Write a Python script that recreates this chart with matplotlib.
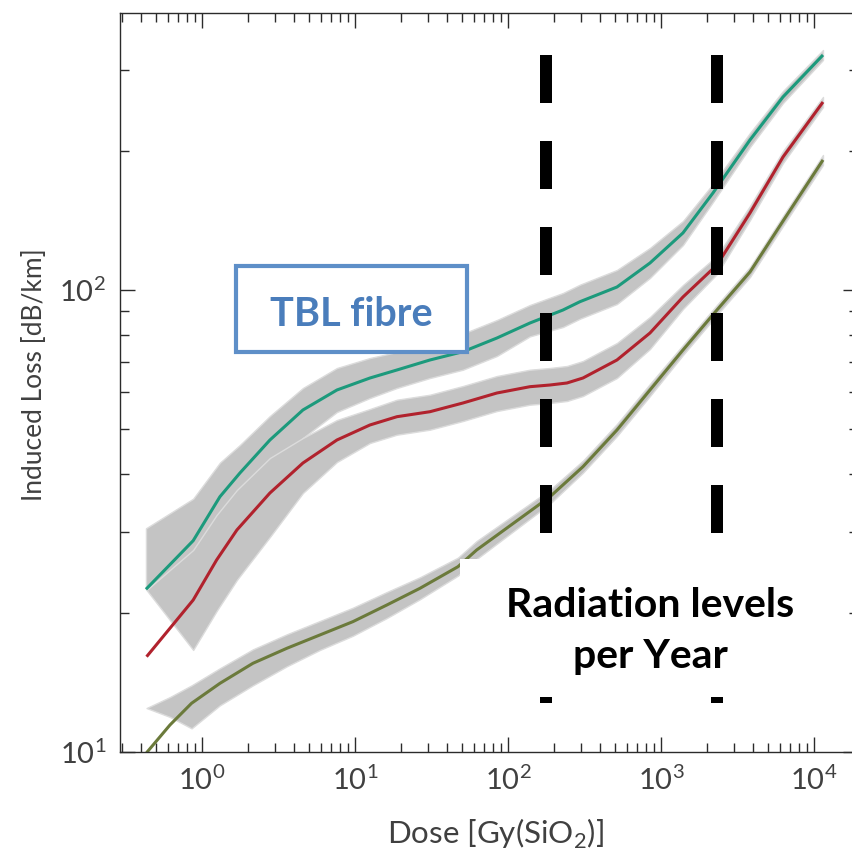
import math
import matplotlib
matplotlib.use("Agg")
import matplotlib.pyplot as plt
from matplotlib.ticker import LogLocator, FuncFormatter, NullFormatter
from matplotlib.patches import Rectangle

plt.rcParams['font.family'] = ['Lato', 'DejaVu Sans']
plt.rcParams['font.weight'] = 'normal'
plt.rcParams['lines.scale_dashes'] = False

# ---- data ----
# dose [Gy(SiO2)]
teal_x = [0.433, 0.881, 1.317, 1.779, 2.793, 4.588, 7.651, 12.57, 18.86, 30.99, 50.90,
          84.88, 139.4, 229.1, 295.8, 516.0, 847.5, 1392, 2186, 3813, 6264, 11432]
teal_y = [22.50, 28.67, 35.69, 40.17, 47.35, 54.99, 60.75, 64.49, 67.12, 70.55, 73.53,
          78.72, 84.83, 90.51, 94.34, 101.5, 114.4, 132.9, 162.2, 211.2, 261.7, 322.6]
teal_hi = [30.49, 35.34, 42.29, 46.19, 53.37, 61.36, 67.79, 71.25, 73.42, 77.17, 80.43,
           86.11, 92.80, 98.52, 102.7, 110.5, 123.3, 141.0, 169.6, 218.7, 269.6, 330.7]
teal_lo = [22.50, 22.91, 29.24, 33.24, 39.77, 47.83, 54.44, 58.38, 61.36, 64.49, 67.22,
           71.97, 79.36, 83.16, 86.67, 93.26, 106.2, 125.1, 155.1, 203.9, 254.0, 314.7]

red_x = [0.437, 0.881, 1.253, 1.700, 2.793, 4.588, 7.651, 12.57, 18.86, 30.99, 50.90,
         84.88, 139.4, 188.4, 243.2, 309.4, 516.0, 847.5, 1392, 2321, 3813, 6264, 11432]
red_y = [16.08, 21.33, 26.04, 30.24, 36.36, 42.22, 47.35, 51.03, 53.18, 54.52, 56.94,
         59.85, 61.76, 62.28, 62.91, 64.49, 70.55, 80.71, 96.57, 113.3, 146.8, 194.0, 255.2]
red_hi = [22.42, 27.37, 32.58, 36.91, 43.29, 47.83, 52.31, 55.26, 57.88, 59.34, 61.97,
          65.14, 67.22, 67.79, 68.47, 70.20, 76.79, 87.41, 102.5, 118.5, 152.0, 199.9, 261.7]
red_lo = [22.42, 16.63, 20.19, 23.57, 29.20, 36.36, 42.43, 46.65, 48.62, 49.85, 52.05,
          54.71, 56.46, 56.94, 57.51, 58.96, 64.49, 74.52, 90.96, 108.3, 141.7, 188.3, 248.9]

olive_x = [0.437, 0.621, 0.860, 1.317, 2.163, 3.607, 5.925, 9.733, 16.23, 26.66, 47.21,
           62.55, 188.4, 309.4, 516.0, 847.5, 1392, 2321, 3813, 6264, 11432]
olive_y = [9.965, 11.44, 12.75, 14.08, 15.56, 16.77, 17.92, 19.15, 20.81, 22.61, 25.18,
           27.37, 35.69, 41.45, 49.77, 60.75, 74.15, 90.51, 109.4, 141.0, 191.2]
olive_hi = [12.45, 13.15, 13.94, 15.18, 16.68, 17.98, 19.21, 20.53, 22.20, 23.89, 26.34,
            28.62, 36.96, 42.71, 51.28, 62.60, 76.02, 92.80, 112.1, 144.6, 196.0]
olive_lo = [12.45, 11.91, 11.25, 12.62, 13.94, 15.33, 16.63, 17.85, 19.50, 21.41, 24.08,
            26.17, 34.47, 40.23, 48.30, 58.96, 72.33, 88.29, 106.7, 137.6, 186.5]

# yearly radiation levels (vertical markers)
year_doses = [177, 2320]
marker_span = [322.6, 12.76]

# ---- figure ----
W, H = 853, 860
fig = plt.figure(figsize=(W / 100, H / 100), dpi=100)
ax = fig.add_axes([120 / W, 1 - 752 / H, 738 / W, 739 / H])
ax.set_xscale('log')
ax.set_yscale('log')
ax.set_xlim(0.2931, 19353)
ax.set_ylim(10, 397.7)

band = '#c4c4c4'
for x, lo, hi in [(teal_x, teal_lo, teal_hi), (red_x, red_lo, red_hi), (olive_x, olive_lo, olive_hi)]:
    ax.fill_between(x, lo, hi, color=band, lw=1.0, edgecolor='#dcdcdc', zorder=1)

ax.plot(teal_x, teal_y, color='#1c9a7c', lw=2.2, zorder=2, solid_capstyle='butt')
ax.plot(red_x, red_y, color='#b1222d', lw=2.2, zorder=2, solid_capstyle='butt')
ax.plot(olive_x, olive_y, color='#6b7a3b', lw=2.2, zorder=2, solid_capstyle='butt')

for d in year_doses:
    ax.plot([d, d], marker_span, color='black', lw=8.64, dashes=(34.56, 27.36),
            dash_capstyle='butt', solid_capstyle='butt', zorder=3)

# white label area
ax.add_patch(Rectangle((460 / W, 1 - 697 / H), 385 / W, 138 / H, transform=fig.transFigure,
                       facecolor='white', edgecolor='none', zorder=4))
fig.text(650 / W, 1 - 617 / H, 'Radiation levels', ha='center', va='baseline',
         fontsize=29.5, fontweight='bold', color='black', zorder=5)
fig.text(650 / W, 1 - 668 / H, 'per Year', ha='center', va='baseline',
         fontsize=29.5, fontweight='bold', color='black', zorder=5)

# TBL fibre box
ax.add_patch(Rectangle((236 / W, 1 - 352 / H), 231 / W, 86 / H, transform=fig.transFigure,
                       facecolor='white', edgecolor='#5e8fc8', lw=3.0, zorder=4))
fig.text(351.5 / W, 1 - 326 / H, 'TBL fibre', ha='center', va='baseline',
         fontsize=28.5, fontweight='bold', color='#4a7dbb', zorder=5)

# axes styling
for s in ax.spines.values():
    s.set_color('#2b2b2b')
    s.set_linewidth(1.0)
ax.xaxis.set_major_locator(LogLocator(base=10, subs=(1.0,)))
ax.yaxis.set_major_locator(LogLocator(base=10, subs=(1.0,)))
ax.xaxis.set_minor_locator(LogLocator(base=10, subs=range(2, 10)))
ax.yaxis.set_minor_locator(LogLocator(base=10, subs=range(2, 10)))
fmt = FuncFormatter(lambda v, p: r'$\mathregular{10^{%d}}$' % round(math.log10(v)))
ax.xaxis.set_major_formatter(fmt)
ax.yaxis.set_major_formatter(fmt)
ax.xaxis.set_minor_formatter(NullFormatter())
ax.yaxis.set_minor_formatter(NullFormatter())
ax.tick_params(which='both', direction='in', top=True, right=True, color='#2b2b2b', width=1.0)
ax.tick_params(which='major', length=10.8, labelsize=21, labelcolor='#404040', pad=10)
ax.tick_params(which='minor', length=6.5)

fig.text(495 / W, 1 - 834 / H, r'Dose [Gy(SiO$_{\mathregular{2}}$)]', ha='center', va='center',
         fontsize=22.5, color='#404040')
fig.text(35 / W, 1 - 375 / H, 'Induced Loss [dB/km]', ha='center', va='center', rotation=90,
         fontsize=19, color='#404040')

fig.savefig('out.png', dpi=100)
